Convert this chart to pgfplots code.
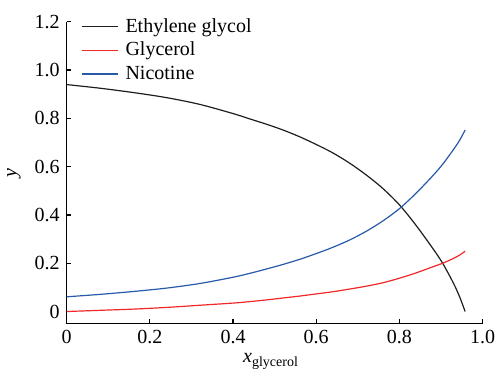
\documentclass[border=0pt]{standalone}
\usepackage{fontspec}
\setmainfont{Liberation Serif}
\usepackage{pgfplots}
\pgfplotsset{compat=1.18}
\definecolor{cEG}{RGB}{30,30,30}
\definecolor{cGly}{RGB}{240,40,40}
\definecolor{cNic}{RGB}{40,90,170}
\begin{document}
\begin{tikzpicture}
\begin{axis}[
  scale only axis, width=208pt, height=150.9pt,
  anchor=south west, at={(0pt,0pt)},
  xmin=0, xmax=1, ymin=-0.05, ymax=1.2,
  axis x line=bottom, axis y line=left,
  axis line style={-, line width=0.7pt, black},
  xtick={0,0.2,0.4,0.6,0.8,1},
  xticklabels={\textrm{0},\textrm{0.2},\textrm{0.4},\textrm{0.6},\textrm{0.8},\textrm{1.0}},
  ytick={0,0.2,0.4,0.6,0.8,1,1.2},
  yticklabels={\textrm{0},\textrm{0.2},\textrm{0.4},\textrm{0.6},\textrm{0.8},\textrm{1.0},\textrm{1.2}},
  tick align=inside, major tick length=2.3pt,
  tick style={black, line width=0.6pt},
  ticklabel style={font=\rmfamily\fontsize{10}{12}\selectfont},
  xlabel={\textit{x}\raisebox{-0.45ex}{\fontsize{7}{8}\selectfont glycerol}},
  ylabel={\textit{y}},
  xlabel style={yshift=2.5pt, xshift=-2pt},
  label style={font=\fontsize{10}{12}\selectfont},
  legend style={draw=none, fill=none, at={(0.02,1.04)}, anchor=north west,
    font=\fontsize{10}{12}\selectfont, row sep=-0.5pt},
  legend cell align=left,
  legend image code/.code={\draw[#1] (0pt,0pt) -- (18pt,0pt); \path (19.5pt,0pt);},
]
\addplot[cEG, line width=0.6pt, smooth, tension=0.5] table {
x y
0.000 0.940
0.080 0.925
0.160 0.907
0.240 0.886
0.320 0.858
0.400 0.820
0.440 0.798
0.480 0.776
0.520 0.752
0.560 0.724
0.600 0.692
0.640 0.657
0.680 0.615
0.720 0.566
0.760 0.510
0.800 0.442
0.840 0.357
0.880 0.262
0.904 0.200
0.930 0.117
0.945 0.060
0.958 0.000
};
\addlegendentry{Ethylene glycol}
\addplot[cGly, line width=0.6pt, smooth, tension=0.5] table {
x y
0.000 0.000
0.080 0.005
0.160 0.010
0.240 0.017
0.320 0.026
0.400 0.035
0.440 0.041
0.480 0.048
0.520 0.056
0.560 0.064
0.600 0.073
0.640 0.082
0.680 0.093
0.720 0.105
0.760 0.119
0.800 0.138
0.840 0.160
0.880 0.185
0.904 0.200
0.930 0.220
0.945 0.234
0.958 0.250
};
\addlegendentry{Glycerol}
\addplot[cNic, line width=0.6pt, smooth, tension=0.5] table {
x y
0.000 0.061
0.080 0.071
0.160 0.083
0.240 0.097
0.320 0.116
0.400 0.142
0.440 0.158
0.480 0.176
0.520 0.195
0.560 0.216
0.600 0.240
0.640 0.266
0.680 0.296
0.720 0.332
0.760 0.375
0.800 0.426
0.840 0.490
0.880 0.562
0.904 0.610
0.930 0.671
0.945 0.710
0.958 0.752
};
\addlegendentry{Nicotine}
\end{axis}
\pgfresetboundingbox
\path[use as bounding box] (-33.3pt,-23.2pt) rectangle (214.7pt,161.8pt);
\end{tikzpicture}
\end{document}
